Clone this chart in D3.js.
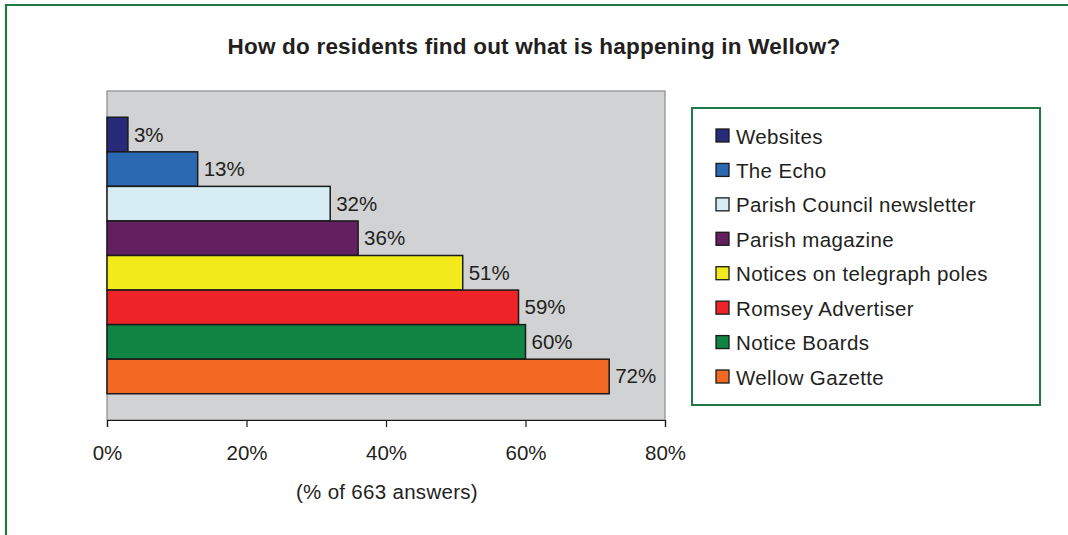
<!DOCTYPE html>
<html><head><meta charset="utf-8">
<script src="https://cdn.jsdelivr.net/npm/d3@7"></script>
<style>
html,body{margin:0;padding:0;background:#fff;}
svg{display:block;font-family:"Liberation Sans",Arial,sans-serif;}
</style></head>
<body>
<svg id="chart" width="1068" height="535"></svg>
<script>
const series = ["Websites","The Echo","Parish Council newsletter","Parish magazine","Notices on telegraph poles","Romsey Advertiser","Notice Boards","Wellow Gazette"];
const values = [3,13,32,36,51,59,60,72];
const colors = ["#29297a","#2c69b3","#d5edf3","#622061","#f2ea1b","#ee2428","#0f8443","#f36823"];
const xTicks = [0,20,40,60,80];
const title = "How do residents find out what is happening in Wellow?";
const xTitle = "(% of 663 answers)";

const svg = d3.select("#chart");
const green = "#1f7a47";
const textCol = "#231f20";
const fs = 20.5;

// outer frame (top and left)
svg.append("line").attr("x1",6).attr("x2",1068).attr("y1",5).attr("y2",5).attr("stroke",green).attr("stroke-width",2.2);
svg.append("line").attr("x1",6).attr("x2",6).attr("y1",4).attr("y2",535).attr("stroke",green).attr("stroke-width",2.2);

svg.append("text").attr("x",534).attr("y",54).attr("text-anchor","middle")
  .attr("font-weight","bold").attr("font-size",22.5).attr("letter-spacing",0.2).attr("fill",textCol).text(title);

const plot = {x0:107, x1:665, y0:91, y1:420};
const x = d3.scaleLinear().domain([0,80]).range([plot.x0, plot.x1]);
const y = d3.scaleBand().domain(series).range([plot.y0, plot.y1]).paddingInner(0).paddingOuter(0.76);

svg.append("rect").attr("x",plot.x0).attr("y",plot.y0).attr("width",plot.x1-plot.x0).attr("height",plot.y1-plot.y0)
  .attr("fill","#d1d2d4").attr("stroke","#8a8a8a").attr("stroke-width",1.2);

svg.selectAll("rect.bar").data(series).join("rect").attr("class","bar")
  .attr("x",x(0)).attr("y",d=>y(d)).attr("width",(d,i)=>x(values[i])-x(0)).attr("height",y.bandwidth())
  .attr("fill",(d,i)=>colors[i]).attr("stroke","#1a1a1a").attr("stroke-width",1.5);

svg.selectAll("text.val").data(series).join("text").attr("class","val")
  .attr("x",(d,i)=>x(values[i])+6).attr("y",d=>y(d)+y.bandwidth()/2+7)
  .attr("font-size",fs).attr("fill",textCol).text((d,i)=>values[i]+"%");

// x axis
const axis = d3.axisBottom(x).tickValues(xTicks).tickSize(7).tickFormat(d=>d+"%");
const ag = svg.append("g").attr("transform",`translate(0,${plot.y1})`).call(axis);
ag.select(".domain").attr("stroke","#1a1a1a").attr("stroke-width",1.2);
ag.selectAll(".tick line").attr("stroke","#1a1a1a").attr("stroke-width",1.2);
ag.selectAll(".tick text").attr("font-size",fs).attr("fill",textCol).attr("dy",0).attr("y",40)
  .attr("font-family","Liberation Sans, Arial, sans-serif");

svg.append("text").attr("x",387).attr("y",499).attr("text-anchor","middle").attr("font-size",fs).attr("letter-spacing",0.3).attr("fill",textCol).text(xTitle);

// legend
const lg = {x:692, y:108, w:348, h:297};
svg.append("rect").attr("x",lg.x).attr("y",lg.y).attr("width",lg.w).attr("height",lg.h).attr("fill","#fff").attr("stroke",green).attr("stroke-width",2);
const ly = d3.scalePoint().domain(series).range([136,377]);
const items = svg.selectAll("g.li").data(series).join("g").attr("class","li").attr("transform",d=>`translate(716,${ly(d)})`);
items.append("rect").attr("x",0).attr("y",-7).attr("width",13).attr("height",13)
  .attr("fill",(d,i)=>colors[i]).attr("stroke","#1a1a1a").attr("stroke-width",1.3);
items.append("text").attr("x",20).attr("y",7.5).attr("font-size",fs).attr("letter-spacing",0.35).attr("fill",textCol).text(d=>d);
</script>
</body></html>
